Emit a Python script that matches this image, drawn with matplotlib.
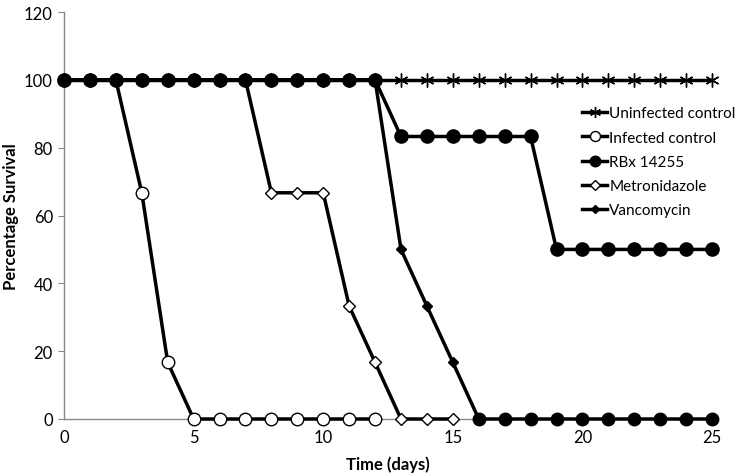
import numpy as np
import matplotlib
matplotlib.use('Agg')
import matplotlib.pyplot as plt

plt.rcParams['font.family'] = ['Lato', 'DejaVu Sans']

days = np.arange(0, 26)

uninfected = [100] * 26
infected = [100, 100, 100, 66.7, 16.7] + [0] * 8          # days 0-12
rbx = [100] * 13 + [83.3] * 6 + [50] * 7                  # days 0-25
metro = [100] * 8 + [66.7, 66.7, 66.7, 33.3, 16.7, 0, 0, 0]  # days 0-15
vanco = [100] * 13 + [50, 33.3, 16.7] + [0] * 10           # days 0-25

fig = plt.figure(figsize=(7.42, 4.77), dpi=100)
ax = fig.add_axes([0.0863, 0.1195, 0.8733, 0.8532])

lw = 2.5
kw = dict(color='black', linewidth=lw, clip_on=False)

ax.plot(days, uninfected, marker=(6, 2, 0), markersize=10, markeredgewidth=1.0,
        label='Uninfected control', zorder=3, **kw)
van = np.array(vanco)
ax.plot(days, van, marker='D', markersize=5, markerfacecolor='black',
        label='Vancomycin', zorder=4, **kw)
# last points of the vancomycin series are shown with round markers
tail = van == 0
ax.plot(days[tail], van[tail], linestyle='none', marker='o', markersize=9,
        color='black', clip_on=False, zorder=4)
ax.plot(days[:len(metro)], metro, marker='D', markersize=6, markerfacecolor='white',
        markeredgewidth=1.0, label='Metronidazole', zorder=5, **kw)
ax.plot(days[:len(infected)], infected, marker='o', markersize=9, markerfacecolor='white',
        markeredgewidth=1.0, label='Infected control', zorder=6, **kw)
ax.plot(days, rbx, marker='o', markersize=9.5, label='RBx 14255', zorder=7, **kw)

ax.set_xlim(0, 25)
ax.set_ylim(0, 120)
ax.set_xticks([0, 5, 10, 15, 20, 25])
ax.set_yticks([0, 20, 40, 60, 80, 100, 120])
ax.tick_params(axis='x', length=0, labelsize=12, pad=7)
ax.tick_params(axis='y', length=4, direction='out', color='#888888', labelsize=12, pad=4)

for s in ['top', 'right']:
    ax.spines[s].set_visible(False)
for s in ['left', 'bottom']:
    ax.spines[s].set_color('#888888')
    ax.spines[s].set_linewidth(1.0)

ax.set_xlabel('Time (days)', fontsize=12, fontweight='bold', labelpad=8)
ax.set_ylabel('Percentage Survival', fontsize=12, fontweight='bold')
ax.yaxis.set_label_coords(-0.07, 0.5)

h, l = ax.get_legend_handles_labels()
order = ['Uninfected control', 'Infected control', 'RBx 14255', 'Metronidazole', 'Vancomycin']
hs = [h[l.index(o)] for o in order]
ax.legend(hs, order, loc='upper left', bbox_to_anchor=(0.8, 0.768), frameon=False,
          fontsize=11, handlelength=1.6, handletextpad=0.15, labelspacing=0.67,
          borderpad=0, borderaxespad=0, markerscale=0.8)

fig.savefig('out.png', dpi=100)
